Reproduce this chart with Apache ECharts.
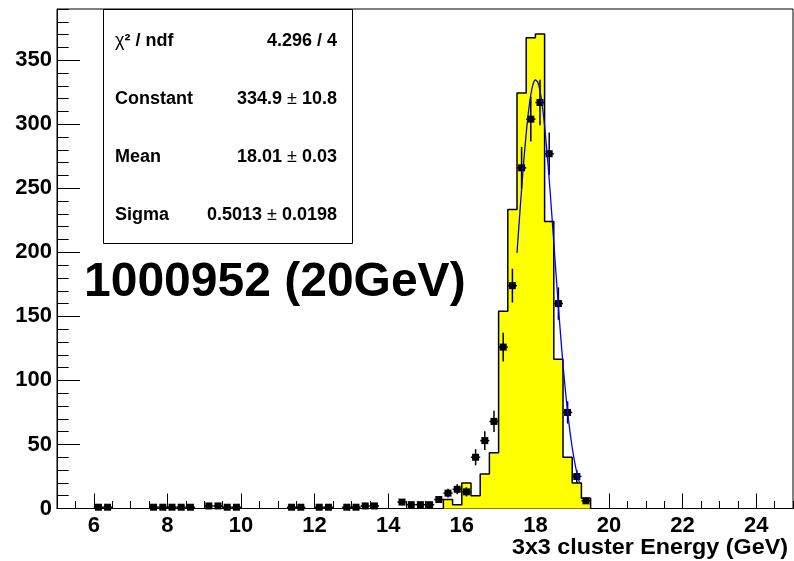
<!DOCTYPE html>
<html>
<head>
<meta charset="utf-8">
<script src="https://cdn.jsdelivr.net/npm/echarts@6/dist/echarts.min.js"></script>
<style>
html, body { margin: 0; padding: 0; background: #fff; }
#chart { width: 794px; height: 561px; }
</style>
</head>
<body>
<div id="chart"></div>
<script>
// axes
var xRange = [5, 25];
var xLabels = [6, 8, 10, 12, 14, 16, 18, 20, 22, 24];
var yLabels = [0, 50, 100, 150, 200, 250, 300, 350];
var yMax = 390;

// MC histogram (yellow), lower bin edges, bin width 0.25 GeV
var binWidth = 0.25;
var mcEdges = [15.5, 15.75, 16, 16.25, 16.5, 16.75, 17, 17.25, 17.5, 17.75, 18, 18.25, 18.5, 18.75, 19, 19.25];
var mcCounts = [7, 3, 20, 10, 27, 43.5, 154, 233.5, 324.5, 367.5, 370.5, 224, 116.5, 40, 20, 8];

// data points at bin centres (errors = sqrt(N))
var dataE = [6.125, 6.375, 7.625, 7.875, 8.125, 8.375, 8.625, 9.125, 9.375, 9.625, 9.875,
    11.375, 11.625, 12.125, 12.375, 12.875, 13.125, 13.375, 13.625,
    14.375, 14.625, 14.875, 15.125, 15.375, 15.625, 15.875, 16.125, 16.375, 16.625, 16.875,
    17.125, 17.375, 17.625, 17.875, 18.125, 18.375, 18.625, 18.875, 19.125, 19.375];
var dataCounts = [1, 1, 1, 1, 1, 1, 1, 2, 2, 1, 1,
    1, 1, 1, 1, 1, 1, 2, 2,
    5, 3, 3, 3, 7, 12, 15, 13, 40, 53, 68,
    126, 174, 266, 304, 317, 277, 160, 75, 25, 6];

// gaussian fit (values from the stats box)
var fitConstant = 334.9;
var fitMean = 18.01;
var fitSigma = 0.5013;
var fitRange = [17.5, 19.2];

var statNames = ['{g|χ}{b|² / ndf}', 'Constant', 'Mean', 'Sigma'];
var statValues = ['{b|4.296 / 4}', '{b|334.9}{n| ± }{b|10.8}', '{b|18.01}{n| ± }{b|0.03}', '{b|0.5013}{n| ± }{b|0.0198}'];

var FONT = '"Liberation Sans", Arial, Helvetica, sans-serif';

// step outline for the histogram
var mcLine = [[mcEdges[0], 0]];
for (var i = 0; i < mcEdges.length; i++) {
    mcLine.push([mcEdges[i], mcCounts[i]]);
}
mcLine.push([mcEdges[mcEdges.length - 1] + binWidth, 0]);

var dataPts = [];
for (var i = 0; i < dataE.length; i++) {
    dataPts.push([dataE[i], dataCounts[i]]);
}

var fitPts = [];
for (var x = fitRange[0]; x <= fitRange[1] + 1e-9; x += 0.02) {
    var t = (x - fitMean) / fitSigma;
    fitPts.push([x, fitConstant * Math.exp(-0.5 * t * t)]);
}

var chart = echarts.init(document.getElementById('chart'));

var graphics = [{
    type: 'rect',
    left: 103, top: 9,
    shape: { width: 249, height: 234 },
    style: { fill: '#fff', stroke: '#000', lineWidth: 1 },
    z: 10
}, {
    type: 'text',
    x: 84, y: 283,
    style: {
        text: '1000952 (20GeV)',
        font: 'bold 48px ' + FONT,
        fill: '#000',
        align: 'left', verticalAlign: 'middle'
    },
    z: 10
}, {
    type: 'text',
    x: 788, y: 548, scaleX: 1.06,
    style: {
        text: '3x3 cluster Energy (GeV)',
        font: 'bold 22px ' + FONT,
        fill: '#000',
        align: 'right', verticalAlign: 'middle'
    },
    z: 10
}];

var richStyles = {
    b: { fontFamily: FONT, fontWeight: 'bold', fontSize: 18, color: '#000' },
    n: { fontFamily: FONT, fontWeight: 'normal', fontSize: 18, color: '#000' },
    g: { fontFamily: FONT, fontWeight: 'normal', fontSize: 18, color: '#000' }
};
var rowY = [41, 99, 157, 215];
for (var i = 0; i < statNames.length; i++) {
    var name = statNames[i].indexOf('{') === 0 ? statNames[i] : '{b|' + statNames[i] + '}';
    graphics.push({
        type: 'text', x: 115, y: rowY[i], z: 11,
        style: { text: name, rich: richStyles, verticalAlign: 'middle', align: 'left' }
    });
    graphics.push({
        type: 'text', x: 337, y: rowY[i], z: 11,
        style: { text: statValues[i], rich: richStyles, verticalAlign: 'middle', align: 'right' }
    });
}

var option = {
    animation: false,
    backgroundColor: '#fff',
    grid: {
        left: 57, right: 1, top: 9, bottom: 52.5,
        show: true, borderColor: '#000', borderWidth: 1,
        backgroundColor: 'transparent'
    },
    xAxis: [{
        type: 'value', min: xRange[0], max: xRange[1], interval: 0.5,
        position: 'bottom',
        axisLine: { lineStyle: { color: '#000', width: 1 } },
        axisTick: { inside: true, length: 7.5, lineStyle: { color: '#000', width: 1 } },
        axisLabel: { show: false },
        splitLine: { show: false }
    }, {
        type: 'value', min: xRange[0], max: xRange[1],
        position: 'bottom',
        axisLine: { show: false },
        axisTick: { inside: true, length: 15, customValues: xLabels, lineStyle: { color: '#000', width: 1 } },
        axisLabel: {
            customValues: xLabels, margin: 6,
            fontFamily: FONT, fontWeight: 'bold', fontSize: 22, color: '#000'
        },
        splitLine: { show: false }
    }],
    yAxis: [{
        type: 'value', min: 0, max: yMax, interval: 10,
        position: 'left',
        axisLine: { show: true, lineStyle: { color: '#000', width: 1 } },
        axisTick: { inside: true, length: 11.7, lineStyle: { color: '#000', width: 1 } },
        axisLabel: { show: false },
        splitLine: { show: false }
    }, {
        type: 'value', min: 0, max: yMax,
        position: 'left',
        axisLine: { show: false },
        axisTick: { inside: true, length: 23, customValues: yLabels, lineStyle: { color: '#000', width: 1 } },
        axisLabel: {
            customValues: yLabels, margin: 5,
            fontFamily: FONT, fontWeight: 'bold', fontSize: 22, color: '#000'
        },
        splitLine: { show: false }
    }],
    series: [{
        name: 'MC',
        type: 'line',
        step: 'end',
        data: mcLine,
        symbol: 'none',
        lineStyle: { color: '#000', width: 1.5 },
        areaStyle: { color: '#ffff00', opacity: 1 },
        z: 2
    }, {
        name: 'data',
        type: 'custom',
        data: dataPts,
        encode: { x: 0, y: 1 },
        z: 3,
        renderItem: function (params, api) {
            var x = api.value(0), v = api.value(1), e = Math.sqrt(v);
            var c = api.coord([x, v]);
            var lo = api.coord([x, v - e]), hi = api.coord([x, v + e]);
            var l = api.coord([x - binWidth / 2, v]), r = api.coord([x + binWidth / 2, v]);
            return {
                type: 'group',
                children: [
                    { type: 'line', shape: { x1: lo[0], y1: lo[1], x2: hi[0], y2: hi[1] }, style: { stroke: '#000', lineWidth: 1.5 } },
                    { type: 'line', shape: { x1: l[0], y1: l[1], x2: r[0], y2: r[1] }, style: { stroke: '#000', lineWidth: 1.5 } },
                    { type: 'rect', shape: { x: c[0] - 3.5, y: c[1] - 3.5, width: 7, height: 7 }, style: { fill: '#000' } }
                ]
            };
        }
    }, {
        name: 'fit',
        type: 'line',
        data: fitPts,
        symbol: 'none',
        smooth: false,
        lineStyle: { color: '#0000ff', width: 1.3 },
        z: 4
    }],
    graphic: graphics
};
chart.setOption(option);
</script>
</body>
</html>
